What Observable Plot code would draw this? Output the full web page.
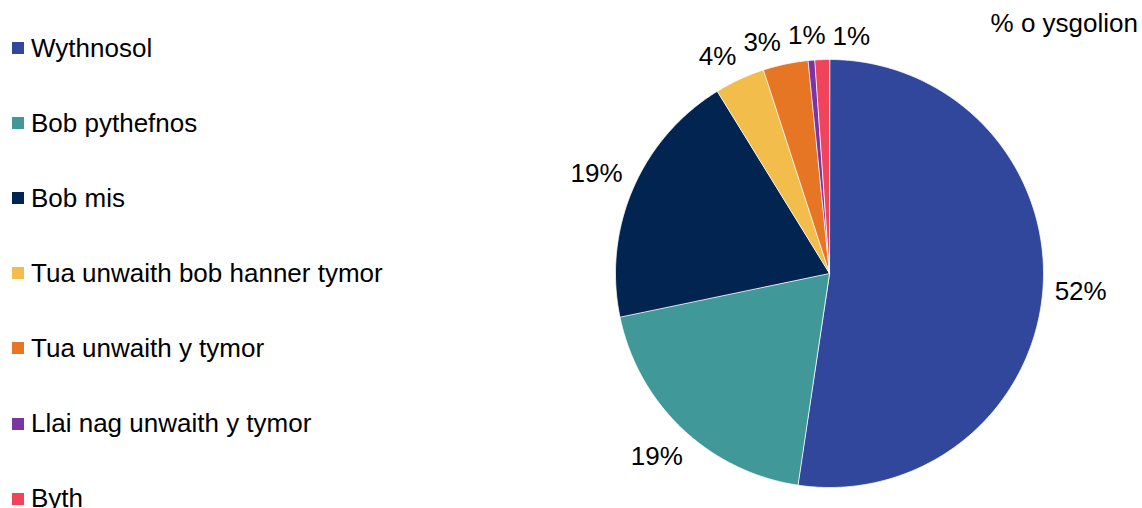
<!DOCTYPE html>
<html>
<head>
<meta charset="utf-8">
<script src="https://cdn.jsdelivr.net/npm/d3@7"></script>
<script src="https://cdn.jsdelivr.net/npm/@observablehq/plot@0.6"></script>
<style>
  html, body { margin: 0; padding: 0; background: #fff; }
  #wrap { position: relative; width: 1142px; height: 508px; font-family: "Liberation Sans", Arial, sans-serif; }
  #wrap svg { position: absolute; left: 0; top: 0; }
  .legend-row { position: absolute; left: 12px; height: 30px; display: flex; align-items: center; font-size: 26px; color: #000; white-space: nowrap; }
  .legend-row .sw { width: 12px; height: 12px; margin-right: 7px; flex: none; }
  #unit { position: absolute; right: 4px; top: 8px; font-size: 26px; color: #000; }
</style>
</head>
<body>
<div id="wrap"></div>
<script>
// ---- data ----
const categories = ["Wythnosol", "Bob pythefnos", "Bob mis", "Tua unwaith bob hanner tymor", "Tua unwaith y tymor", "Llai nag unwaith y tymor", "Byth"];
const values = [52.4, 19.4, 19.5, 3.8, 3.4, 0.5, 1.1];
const labels = ["52%", "19%", "19%", "4%", "3%", "1%", "1%"];
const colors = ["#30479C", "#409898", "#022451", "#F2BD4A", "#E67624", "#7B35A3", "#F0445A"];
const unitLabel = "% o ysgolion";

// ---- layout ----
const W = 1142, H = 508;
const cx = 829, cy = 273, R = 214;
const fontSize = 26;
const pxPerUnit = R;

// ---- pie geometry (data units, radius 1, y up) ----
const total = d3.sum(values);
let acc = 0;
const slices = values.map((v, i) => {
  const a0 = acc / total * 2 * Math.PI;
  acc += v;
  const a1 = acc / total * 2 * Math.PI;
  return {cat: categories[i], a0, a1, label: labels[i]};
});
const pts = [];
for (const s of slices) {
  pts.push({cat: s.cat, x: 0, y: 0});
  const n = Math.max(2, Math.ceil((s.a1 - s.a0) / 0.01));
  for (let k = 0; k <= n; k++) {
    const a = s.a0 + (s.a1 - s.a0) * k / n;
    pts.push({cat: s.cat, x: Math.sin(a), y: Math.cos(a)});
  }
}

// ---- label positions: box edge at fixed gap outside the pie ----
const gap = 11 / pxPerUnit;
const halfH = 12 / pxPerUnit;
const sep = 7 / pxPerUnit;
const lab = slices.map(s => {
  const am = (s.a0 + s.a1) / 2;
  const dx = Math.sin(am), dy = Math.cos(am);
  const digits = s.label.length - 1;
  const halfW = (digits * 0.556 + 0.889) * fontSize / 2 / pxPerUnit;
  const ext = Math.abs(dx) * halfW + Math.abs(dy) * halfH;
  const r = 1 + gap + ext;
  return {text: s.label, x: dx * r, y: dy * r, halfW, r};
});
// collision relaxation among the labels above the pie: spread them along x, keep them on their ring
const topLabels = lab.filter(d => d.y > 0.8).sort((a, b) => a.x - b.x);
for (let it = 0; it < 100; it++) {
  for (let i = 1; i < topLabels.length; i++) {
    const p = topLabels[i - 1], c = topLabels[i];
    if (Math.abs(c.y - p.y) >= 2 * halfH) continue;
    const need = p.halfW + c.halfW + sep - (c.x - p.x);
    if (need > 0) { p.x -= need / 2; c.x += need / 2; }
  }
  for (const d of topLabels) d.y = Math.sqrt(Math.max(0, d.r * d.r - d.x * d.x));
}

const plot = Plot.plot({
  width: W,
  height: H,
  marginLeft: cx - R,
  marginRight: W - (cx + R),
  marginTop: cy - R,
  marginBottom: H - (cy + R),
  x: {domain: [-1, 1], axis: null},
  y: {domain: [-1, 1], axis: null},
  color: {domain: categories, range: colors},
  style: {fontFamily: "Liberation Sans, Arial, sans-serif", background: "transparent", overflow: "visible"},
  marks: [
    Plot.line(pts, {x: "x", y: "y", z: "cat", fill: "cat", stroke: "white", strokeWidth: 0.75, curve: "linear-closed"}),
    Plot.text(lab, {x: "x", y: "y", text: "text", fontSize: fontSize, fill: "#000", textAnchor: "middle", lineAnchor: "middle"})
  ]
});

const wrap = document.getElementById("wrap");
wrap.appendChild(plot);

// legend (HTML, left side)
const rowCenters = categories.map((c, i) => 48 + i * 75.1);
categories.forEach((c, i) => {
  const row = document.createElement("div");
  row.className = "legend-row";
  row.style.top = (rowCenters[i] - 15) + "px";
  const sw = document.createElement("span");
  sw.className = "sw";
  sw.style.background = colors[i];
  const t = document.createElement("span");
  t.textContent = c;
  row.appendChild(sw);
  row.appendChild(t);
  wrap.appendChild(row);
});
const u = document.createElement("div");
u.id = "unit";
u.textContent = unitLabel;
wrap.appendChild(u);
</script>
</body>
</html>
